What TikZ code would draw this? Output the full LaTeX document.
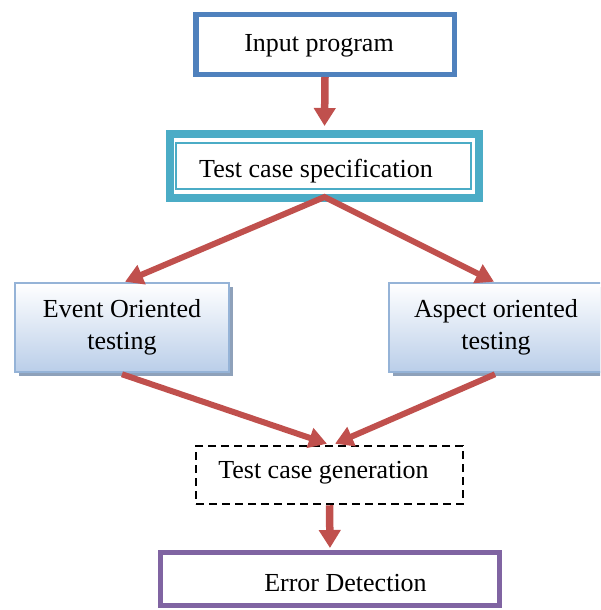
\documentclass[tikz,border=0pt]{standalone}
\usepackage{fontspec}
\setmainfont{Liberation Serif}
\usetikzlibrary{arrows.meta,shadows}
\definecolor{inblue}{HTML}{4F81BD}
\definecolor{tealc}{HTML}{4BACC6}
\definecolor{arrred}{HTML}{C0504D}
\definecolor{purp}{HTML}{8064A2}
\definecolor{lblue}{HTML}{95B3D7}
\definecolor{shad}{HTML}{8EA1BA}
\definecolor{gradb}{HTML}{BACEE9}
\begin{document}
\begin{tikzpicture}[x=1pt,y=-1pt,
  txt/.style={font=\fontsize{26}{32}\selectfont, inner sep=0pt, anchor=base},
  boxn/.style={rectangle, inner sep=0pt},
  grad/.style={boxn, draw=lblue, line width=2.5pt, top color=white, bottom color=gradb,
     font=\fontsize{26}{32}\selectfont, align=center,
     drop shadow={shadow xshift=4pt, shadow yshift=-4pt, fill=shad, opacity=1},
     minimum width=214pt, minimum height=89pt},
  arr/.style={draw=arrred, line width=6pt, -{Triangle[length=18pt,width=20pt]}},
  darr/.style={draw=arrred, line width=6pt, line join=miter, {Triangle[length=18pt,width=20pt]}-{Triangle[length=18pt,width=20pt]}},
  varr/.style={draw=arrred, line width=7.5pt, -{Triangle[length=18pt,width=21pt]}}
]
\useasboundingbox (0,0) rectangle (600,610);
\clip (0,0) rectangle (600,610);

% Input program
\node[boxn, draw=inblue, line width=5.5pt, minimum width=258.5pt, minimum height=59.5pt] (inp) at (325,44.5) {};
\node[txt] (tinp) at (319,52) {Input program};

% Test case specification
\node[boxn, draw=tealc, line width=8pt, minimum width=309pt, minimum height=64pt] (spec) at (324.5,166) {};
\node[boxn, draw=tealc, line width=1.8pt, minimum width=295pt, minimum height=46pt] (speci) at (323.5,166) {};
\node[txt] (tspec) at (316,177) {Test case specification};

% Event / Aspect
\node[grad] (ev) at (122,327.5) {Event Oriented\\testing};
\node[grad] (as) at (496,327.5) {Aspect oriented\\testing};

% Test case generation
\node[boxn, draw=black, line width=2.5pt, dash pattern=on 8pt off 5pt, minimum width=267pt, minimum height=58pt] (gen) at (329.5,475) {};
\node[txt] (tgen) at (323.5,478) {Test case generation};

% Error detection
\node[boxn, draw=purp, line width=5pt, minimum width=339pt, minimum height=53pt] (err) at (330,579) {};
\node[txt] (terr) at (345.5,591) {Error Detection};

% arrows
\draw[varr, shorten >=4pt] (inp.south) -- (spec.north);
\draw[darr] ([xshift=3pt]ev.north) -- ([yshift=5pt]spec.south) -- ([xshift=-2pt]as.north);
\draw[arr] ([yshift=-1pt]ev.south) -- ([xshift=-2.5pt, yshift=1pt]gen.north);
\draw[arr] ([xshift=-1pt,yshift=-1pt]as.south) -- ([xshift=5.5pt, yshift=1pt]gen.north);
\draw[varr, shorten >=2pt] (gen.south) -- (err.north);
\end{tikzpicture}
\end{document}
